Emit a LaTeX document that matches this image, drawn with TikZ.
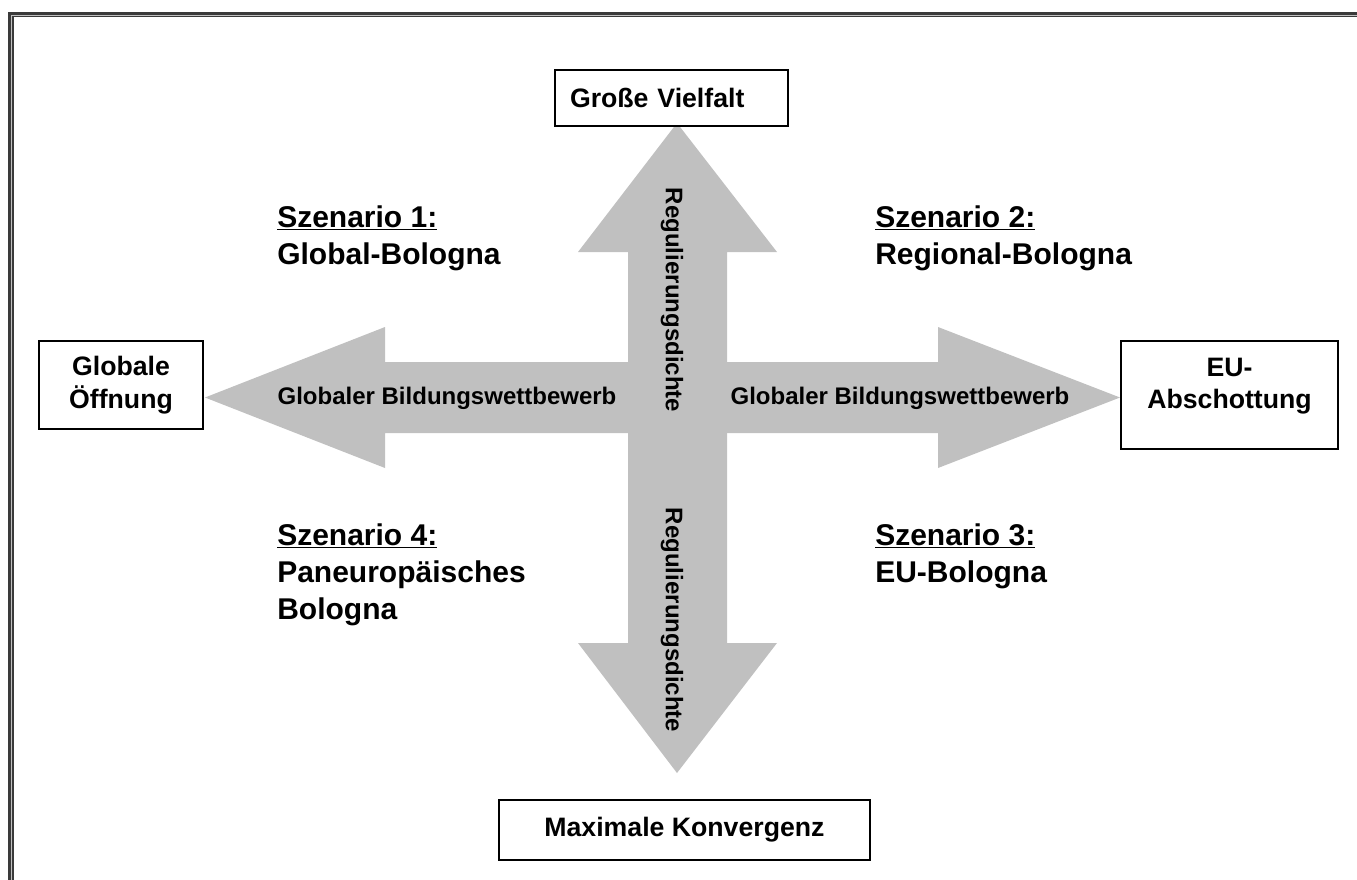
\documentclass[tikz,border=0pt]{standalone}
\usepackage{fontspec}
\setmainfont{Liberation Sans}
\definecolor{arrowgray}{HTML}{C0C0C0}
\definecolor{framedark}{HTML}{3A3A3A}
\begin{document}
\begin{tikzpicture}[x=0.75pt,y=-0.75pt,
  box/.style={draw=black, line width=1.6pt, fill=white, inner sep=0pt,
    font=\bfseries\fontsize{20}{24.5}\selectfont, align=center},
  boxtext/.style={inner sep=0pt, font=\bfseries\fontsize{20}{24.5}\selectfont, align=center},
  arrowshape/.style={fill=arrowgray, draw=none},
  arrlbl/.style={inner sep=0pt, font=\bfseries\fontsize{18}{21}\selectfont},
  scen/.style={inner sep=0pt, anchor=north west, align=left,
    font=\bfseries\fontsize{22.5}{27.75}\selectfont}]
\path[use as bounding box] (0,0) rectangle (1357,879);
\clip (0,0) rectangle (1357,879);
% frame
\draw[line width=2.25pt, draw=framedark] (9.5,13.3) rectangle (1420,950);
\draw[line width=0.6pt, draw=arrowgray] (11.4,15.2) rectangle (1420,950);
\draw[line width=1.2pt, draw=framedark] (12.8,16.6) rectangle (1420,950);
% centre
\coordinate (c) at (677,397.5);
% horizontal double arrow
\fill[arrowshape] (205,397.5) -- (385,327) -- (385,362) -- (938,362) -- (938,327)
  -- (1120,397.5) -- (938,468) -- (938,433) -- (385,433) -- (385,468) -- cycle;
% vertical double arrow
\fill[arrowshape] (677,123) -- (777,252) -- (727,252) -- (727,643) -- (777,643)
  -- (677,773) -- (578,643) -- (628,643) -- (628,252) -- (578,252) -- cycle;
% arrow labels
\node[arrlbl] (hl) at (447,398) {Globaler Bildungswettbewerb};
\node[arrlbl] (hr) at (900,398) {Globaler Bildungswettbewerb};
\node[arrlbl, rotate=-90] (vt) at (672,300) {Regulierungsdichte};
\node[arrlbl, rotate=-90] (vb) at (672,620) {Regulierungsdichte};
% boxes
\node[box, minimum width=174.75pt, minimum height=42pt, text width=152.25pt,
  inner xsep=11.25pt, align=left] (gv) at (671.5,98) {Große Vielfalt};
\node[box, minimum width=123pt, minimum height=66pt] (go) at (121,385) {Globale\\Öffnung};
\node[box, minimum width=162.75pt, minimum height=81pt] (eu) at (1229.5,395) {};
\node[boxtext] (eut) at (1229.5,386) {EU-\\Abschottung};
\node[box, minimum width=278.25pt, minimum height=45pt] (mk) at (684.5,830) {Maximale Konvergenz};
% scenarios
\node[scen] (s1) at (277,205) {\underline{Szenario 1:}\\Global-Bologna};
\node[scen] (s2) at (875,205) {\underline{Szenario 2:}\\Regional-Bologna};
\node[scen] (s4) at (277,523) {\underline{Szenario 4:}\\Paneuropäisches\\Bologna};
\node[scen] (s3) at (875,523) {\underline{Szenario 3:}\\EU-Bologna};
\end{tikzpicture}
\end{document}
